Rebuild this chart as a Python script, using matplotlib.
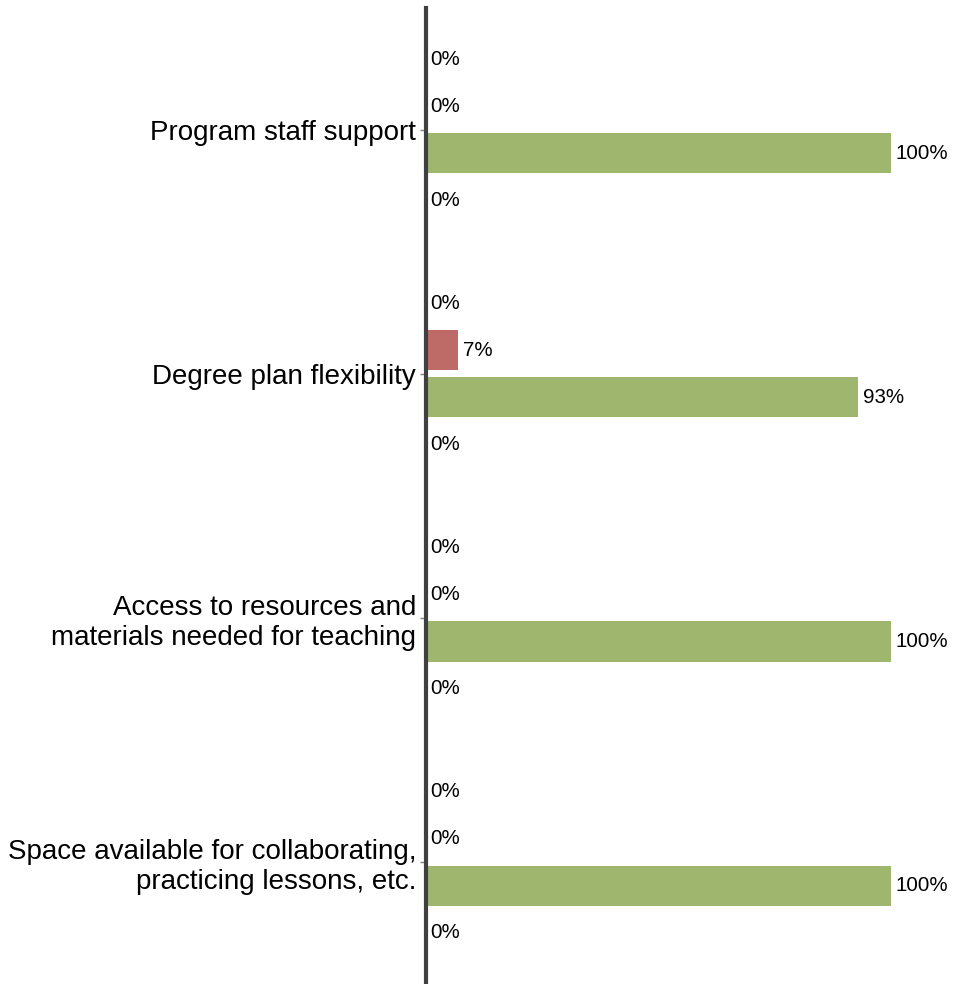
import numpy as np
import matplotlib.pyplot as plt

plt.rcParams['font.family'] = ['Liberation Sans', 'DejaVu Sans']

categories = ["Program staff support",
              "Degree plan flexibility",
              "Access to resources and\nmaterials needed for teaching",
              "Space available for collaborating,\npracticing lessons, etc."]

# four response series per category, top to bottom inside each group
series_1 = [0, 0, 0, 0]
series_2 = [0, 7, 0, 0]
series_3 = [100, 93, 100, 100]
series_4 = [0, 0, 0, 0]
all_series = [series_1, series_2, series_3, series_4]
colors = ["#4F81BD", "#BE6A66", "#9FB66F", "#8064A2"]

fig = plt.figure(figsize=(9.55, 9.84), dpi=100)
ax = fig.add_axes([0.446, 0.0, 0.487, 0.992])

y = np.arange(len(categories))
slot = 0.193
height = 0.164

for j, vals in enumerate(all_series):
    pos = y + (j - 1.5) * slot
    bars = ax.barh(pos, vals, height=height, color=colors[j])
    for b, v in zip(bars, vals):
        ax.annotate(f"{v}%", (v, b.get_y() + b.get_height() / 2),
                    xytext=(3, 0), textcoords="offset points",
                    ha="left", va="center", fontsize=14.8,
                    color="black", annotation_clip=False)

ax.set_xlim(0, 100)
ax.set_ylim(len(categories) - 0.5, -0.5)
ax.set_yticks(y)
ax.set_yticklabels(categories, fontsize=20)
ax.tick_params(axis="y", length=4, width=1, color="#808080", pad=3)
ax.set_xticks([])
for s in ["top", "right", "bottom"]:
    ax.spines[s].set_visible(False)
ax.spines["left"].set_color("#404040")
ax.spines["left"].set_linewidth(3)

fig.savefig("out.png", dpi=100)
